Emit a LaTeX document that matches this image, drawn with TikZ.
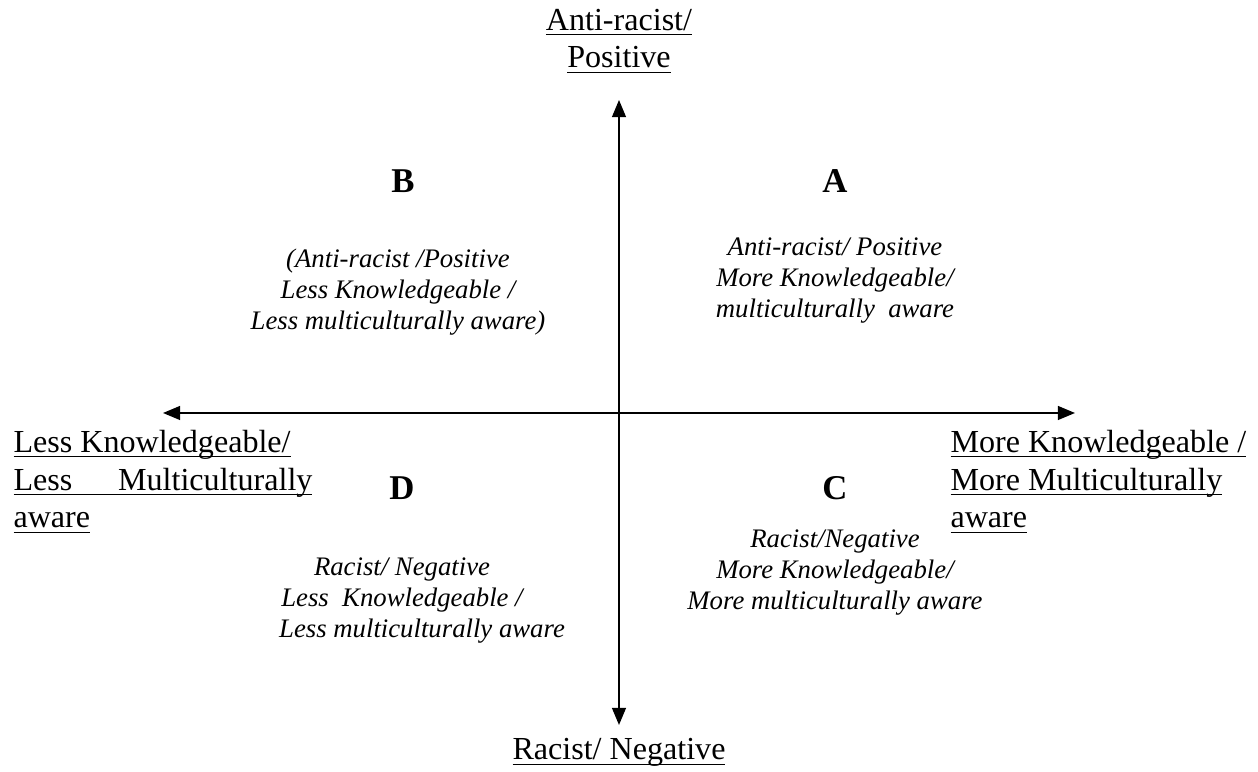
\documentclass[tikz,border=0pt]{standalone}
\usepackage{fontspec}
\setmainfont{Liberation Serif}
\usepackage{tikz}
\usetikzlibrary{arrows.meta}

\newsavebox{\undlbox}
\newcommand{\undl}[1]{\sbox{\undlbox}{#1}\rlap{\rule[-1.9pt]{\wd\undlbox}{0.55pt}}\usebox{\undlbox}}

\begin{document}
\begin{tikzpicture}[
  x=0.374pt, y=-0.374pt,
  axis/.style={{Triangle[length=6.4pt,width=5.2pt]}-{Triangle[length=6.4pt,width=5.2pt]}, line width=0.6pt},
  pole/.style={inner sep=0, font=\fontsize{12}{14.2}\selectfont},
  letter/.style={inner sep=0, anchor=base, font=\fontsize{13}{15}\selectfont\bfseries},
  quad/.style={inner sep=0, anchor=base, align=center, font=\fontsize{10}{11.6}\selectfont\itshape}
]
  \useasboundingbox (0,0) rectangle (1258,772);

  \coordinate (top) at (619,100);
  \coordinate (bottom) at (619,725);
  \coordinate (west) at (163,413);
  \coordinate (east) at (1075,413);
  \draw[axis] (bottom) -- (top);
  \draw[axis] (west) -- (east);

  \node[pole, anchor=base, align=center] (pos) at (619,68) {\undl{Anti-racist/}\\\undl{Positive}};
  \node[pole, anchor=base] (neg) at (619,760) {\undl{Racist/ Negative}};
  \node[pole, anchor=base west, align=left] (less) at (13,528)
    {\undl{Less Knowledgeable/}\\\undl{\makebox[111.8pt][s]{Less Multiculturally}}\\\undl{aware}};
  \node[pole, anchor=base west, align=left] (more) at (950,528)
    {\undl{More Knowledgeable /}\\\undl{More Multiculturally}\\\undl{aware}};

  \node[letter] (qb) at (403,193) {B};
  \node[letter] (qa) at (835,193) {A};
  \node[letter] (qd) at (402,500) {D};
  \node[letter] (qc) at (835,500) {C};

  \node[quad] (tb) at (398,330) {(Anti-racist /Positive\\Less Knowledgeable /\\Less multiculturally aware)};
  \node[quad] (ta) at (835,318) {Anti-racist/ Positive\\More Knowledgeable/\\multiculturally\ \ aware};
  \node[quad] (td) at (402,638) {Racist/ Negative\\Less\ \ Knowledgeable /\\\hspace*{15pt}Less multiculturally aware};
  \node[quad] (tc) at (835,610) {Racist/Negative\\More Knowledgeable/\\More multiculturally aware};
\end{tikzpicture}
\end{document}
